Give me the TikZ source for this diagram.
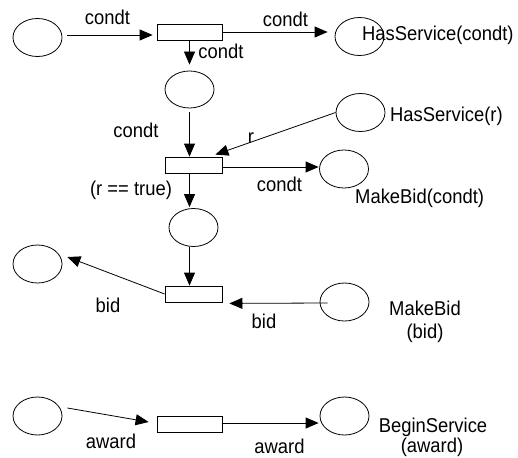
\documentclass[tikz,border=0pt]{standalone}
\usepackage{fontspec}
\setmainfont[FakeStretch=0.92]{Liberation Sans}
\usetikzlibrary{arrows.meta,shapes.geometric}
\begin{document}
\begin{tikzpicture}[x=1pt,y=-1pt,
  place/.style={draw,ellipse,line width=0.8pt,minimum width=49pt,minimum height=38pt,inner sep=0pt},
  trans/.style={draw,rectangle,line width=0.8pt,inner sep=0pt,minimum height=16pt},
  wide/.style={trans,minimum width=65pt},
  narrow/.style={trans,minimum width=57pt},
  arc/.style={line width=0.8pt,-{Triangle[length=13pt,width=11pt]}},
  lbl/.style={anchor=base,inner sep=0pt,font=\fontsize{20}{24}\selectfont},
  lblw/.style={lbl,anchor=base west}
]
\useasboundingbox (0,0) rectangle (518,457);
% places and transitions
\node[place] (p1) at (37.5,37.5) {};
\node[wide]  (t1) at (189.5,32.5) {};
\node[place] (p4) at (359.5,36.5) {};
\node[place,minimum height=37pt] (p2) at (189.5,89.5) {};
\node[narrow] (t2) at (193.5,165) {};
\node[place] (p5) at (360.5,112.5) {};
\node[place] (p6) at (344,169) {};
\node[place] (p3) at (193.5,227.5) {};
\node[narrow] (t3) at (193.5,294) {};
\node[place] (p7) at (37.5,264) {};
\node[place] (p8) at (344.5,302) {};
\node[place] (p9) at (37.5,416) {};
\node[wide]  (t4) at (189.5,424) {};
\node[place] (p10) at (344.5,416) {};
% arcs
\draw[arc] ([shift={(5,-2.5)}]p1.east) -- ([shift={(-4,2.5)}]t1.west);
\draw[arc] ([shift={(0,-0.5)}]t1.east) -- ([shift={(-7,-4.5)}]p4.west);
\draw[arc] (t1.south) -- ([shift={(0,-6)}]p2.north);
\draw[arc] ([shift={(0,4)}]p2.south) -- (p2.south |- t2.north);
\draw[arc] ([xshift=-4pt]t2.south) -- ([shift={(-4,-1)}]p3.north);
\draw[arc] (p5.west) -- ([shift={(-7,-2)}]t2.north east);
\draw[arc] ([shift={(0,2)}]t2.east) -- ([shift={(-0.5,-2)}]p6.west);
\draw[arc] ([xshift=-4pt]p3.south) -- ([xshift=-4pt]t3.north);
\draw[arc] (t3.west) -- ([shift={(5,-7)}]p7.east);
\draw[arc] ([shift={(8,1)}]p8.west) -- ([shift={(7,1)}]t3.south east);
\draw[arc] ([shift={(5,-8)}]p9.east) -- ([shift={(-8,-2)}]t4.west);
\draw[arc] ([shift={(0,-1)}]t4.east) -- ([shift={(-1,7)}]p10.west);
% labels
\node[lbl] (l1) at (107.5,25) {condt};
\node[lbl] (l2) at (221,59) {condt};
\node[lbl] (l3) at (285.5,27) {condt};
\node[lblw] (l4) at (362,40.7) {HasService(condt)};
\node[lbl] (l5) at (136,138) {condt};
\node[lbl] (l6) at (251,143) {r};
\node[lblw] (l7) at (390,122) {HasService(r)};
\node[lbl] (l8) at (131,195) {(r == true)};
\node[lbl] (l9) at (279.5,191) {condt};
\node[lblw] (l10) at (355,203) {MakeBid(condt)};
\node[lbl] (l11) at (108,312) {bid};
\node[lbl] (l12) at (264,328) {bid};
\node[lbl] (l13) at (425,315) {MakeBid};
\node[lbl] (l14) at (425,338) {(bid)};
\node[lbl] (l15) at (111,448) {award};
\node[lbl] (l16) at (279.5,453) {award};
\node[lbl] (l17) at (433,432) {BeginService};
\node[lbl] (l18) at (432,452) {(award)};
\end{tikzpicture}
\end{document}
